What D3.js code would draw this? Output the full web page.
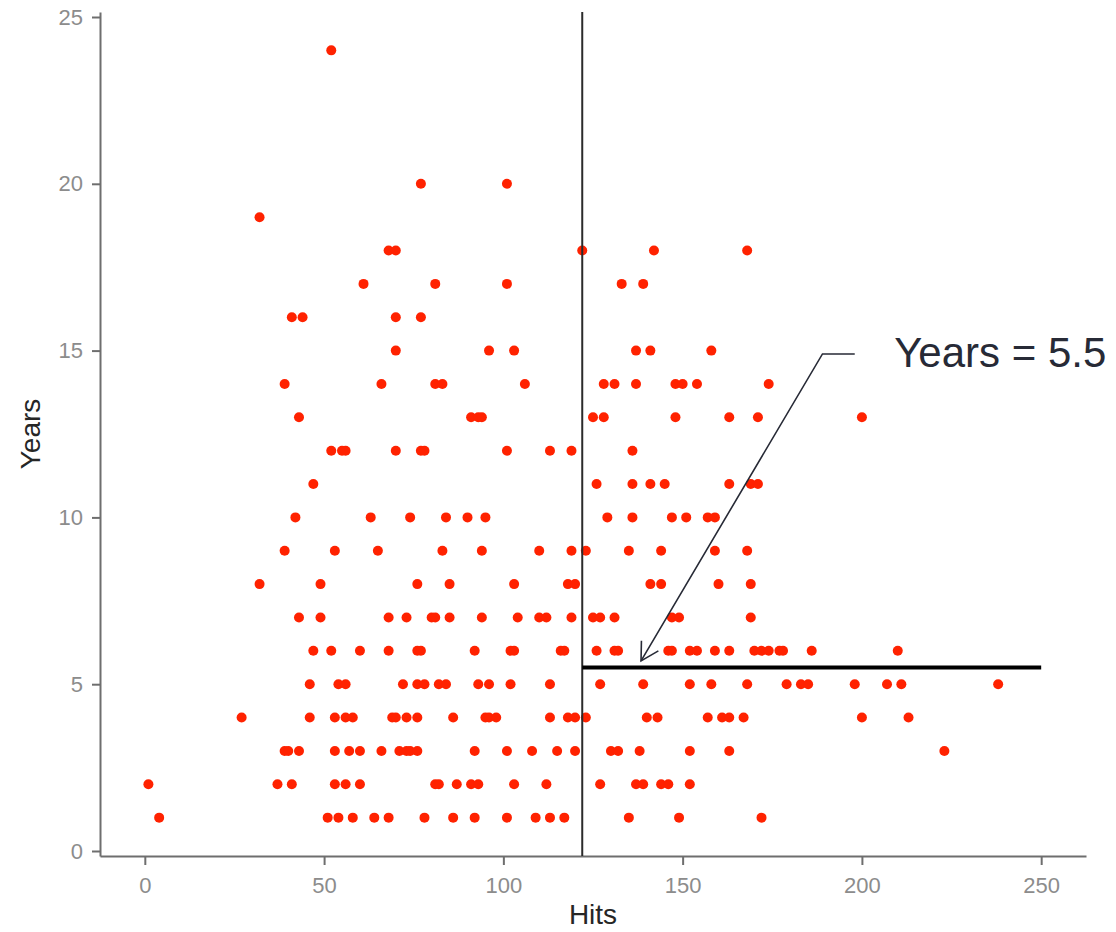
<!DOCTYPE html>
<html>
<head>
<meta charset="utf-8">
<script src="https://cdn.jsdelivr.net/npm/d3@7"></script>
<style>
  body { margin: 0; background: #fff; }
  svg { display: block; font-family: "Liberation Sans", Arial, sans-serif; }
</style>
</head>
<body>
<div id="chart"></div>
<script>
// years (y) and the hits (x) seen on each year row
const yearRows = [1, 2, 3, 4, 5, 6, 7, 8, 9, 10, 11, 12, 13, 14, 15, 16, 17, 18, 19, 20, 24];
const hitsRows = [
  [4, 51, 54, 58, 64, 68, 78, 86, 92, 101, 109, 113, 117, 135, 149, 172],
  [1, 37, 41, 53, 56, 60, 81, 82, 87, 91, 93, 103, 112, 127, 137, 139, 144, 146, 152],
  [39, 40, 43, 53, 57, 60, 66, 71, 73, 74, 76, 92, 101, 108, 115, 120, 130, 132, 138, 152, 163, 223],
  [27, 46, 53, 56, 58, 69, 70, 73, 76, 86, 95, 96, 98, 113, 118, 120, 123, 140, 143, 157, 161, 163, 167, 200, 213],
  [46, 54, 56, 72, 76, 78, 82, 84, 93, 96, 102, 113, 127, 139, 152, 158, 168, 179, 183, 185, 198, 207, 211, 238],
  [47, 52, 60, 68, 76, 77, 92, 102, 103, 116, 117, 126, 131, 132, 146, 147, 152, 154, 159, 163, 170, 172, 174, 177, 178, 186, 210],
  [43, 49, 68, 73, 80, 81, 85, 94, 104, 110, 112, 119, 125, 127, 131, 147, 149, 169],
  [32, 49, 76, 85, 103, 118, 120, 141, 144, 160, 169],
  [39, 53, 65, 83, 94, 110, 119, 123, 135, 144, 159, 168],
  [42, 63, 74, 84, 90, 95, 129, 136, 147, 151, 157, 159],
  [47, 126, 136, 141, 145, 163, 169, 171],
  [52, 55, 56, 70, 77, 78, 101, 113, 119, 136],
  [43, 91, 93, 94, 125, 128, 148, 163, 171, 200],
  [39, 66, 81, 83, 106, 128, 131, 137, 148, 150, 154, 174],
  [70, 96, 103, 137, 141, 158],
  [41, 44, 70, 77],
  [61, 81, 101, 133, 139],
  [68, 70, 122, 142, 168],
  [32],
  [77, 101],
  [52]
];
const xTicks = [0, 50, 100, 150, 200, 250];
const yTicks = [0, 5, 10, 15, 20, 25];

// tree split shown on the plot
const splitHits = 122;
const splitYears = 5.5;
const splitEnd = 250;
const noteText = "Years = 5.5";
const noteTip = [138.4, 5.7];
const noteElbow = [189, 14.9];
const noteTail = [198, 14.9];
const noteAt = [209, 14.5];

const points = [];
yearRows.forEach((yr, i) => hitsRows[i].forEach(h => points.push({hits: h, years: yr})));

const W = 1116, H = 932;
const svg = d3.select("#chart").append("svg").attr("width", W).attr("height", H);

const x = d3.scaleLinear().domain([-12.5, 262.5]).range([100, 1086]);
const y = d3.scaleLinear().domain([-0.15, 25.15]).range([856, 12]);

const axisColor = "#6e6e6e";

const gx = svg.append("g")
  .attr("transform", "translate(0," + y.range()[0] + ")")
  .call(d3.axisBottom(x).tickValues(xTicks).tickSize(9).tickSizeOuter(0).tickPadding(12));
const gy = svg.append("g")
  .attr("transform", "translate(" + x.range()[0] + ",0)")
  .call(d3.axisLeft(y).tickValues(yTicks).tickSize(8).tickSizeOuter(0).tickPadding(9));

[gx, gy].forEach(g => {
  g.select(".domain").attr("stroke", axisColor).attr("stroke-width", 2);
  g.selectAll(".tick line").attr("stroke", axisColor).attr("stroke-width", 2);
  g.selectAll(".tick text").attr("fill", "#8c8c8c").attr("font-size", 22)
    .attr("font-family", "Liberation Sans, Arial, sans-serif");
});

svg.append("text")
  .attr("x", (x.range()[0] + x.range()[1]) / 2)
  .attr("y", 924)
  .attr("text-anchor", "middle")
  .attr("font-size", 28)
  .attr("fill", "#262626")
  .text("Hits");

svg.append("text")
  .attr("transform", "translate(40," + (y.range()[0] + y.range()[1]) / 2 + ") rotate(-90)")
  .attr("text-anchor", "middle")
  .attr("font-size", 28)
  .attr("fill", "#262626")
  .text("Years");

// points
svg.append("g")
  .selectAll("circle")
  .data(points)
  .enter()
  .append("circle")
  .attr("cx", d => x(d.hits))
  .attr("cy", d => y(d.years))
  .attr("r", 5)
  .attr("fill", "#ff2200");

// split lines
svg.append("line")
  .attr("x1", x(splitHits)).attr("x2", x(splitHits))
  .attr("y1", y.range()[1]).attr("y2", y.range()[0])
  .attr("stroke", "#2b2b2b").attr("stroke-width", 2);

svg.append("line")
  .attr("x1", x(splitHits)).attr("x2", x(splitEnd))
  .attr("y1", y(splitYears)).attr("y2", y(splitYears))
  .attr("stroke", "#000").attr("stroke-width", 4);

// callout
const noteColor = "#272a36";
const tip = [x(noteTip[0]), y(noteTip[1])];
const elbow = [x(noteElbow[0]), y(noteElbow[1])];
const tail = [x(noteTail[0]), y(noteTail[1])];

svg.append("path")
  .attr("d", d3.line()([tail, elbow, tip]))
  .attr("fill", "none")
  .attr("stroke", noteColor)
  .attr("stroke-width", 1.6);

const ang = Math.atan2(elbow[1] - tip[1], elbow[0] - tip[0]);
const headLen = 20, spread = 29.5 * Math.PI / 180;
const arm = a => [tip[0] + headLen * Math.cos(a), tip[1] + headLen * Math.sin(a)];
svg.append("path")
  .attr("d", d3.line()([arm(ang - spread), tip, arm(ang + spread)]))
  .attr("fill", "none")
  .attr("stroke", noteColor)
  .attr("stroke-width", 1.6);

svg.append("text")
  .attr("x", x(noteAt[0]))
  .attr("y", y(noteAt[1]))
  .attr("font-size", 42)
  .attr("fill", noteColor)
  .text(noteText);
</script>
</body>
</html>
